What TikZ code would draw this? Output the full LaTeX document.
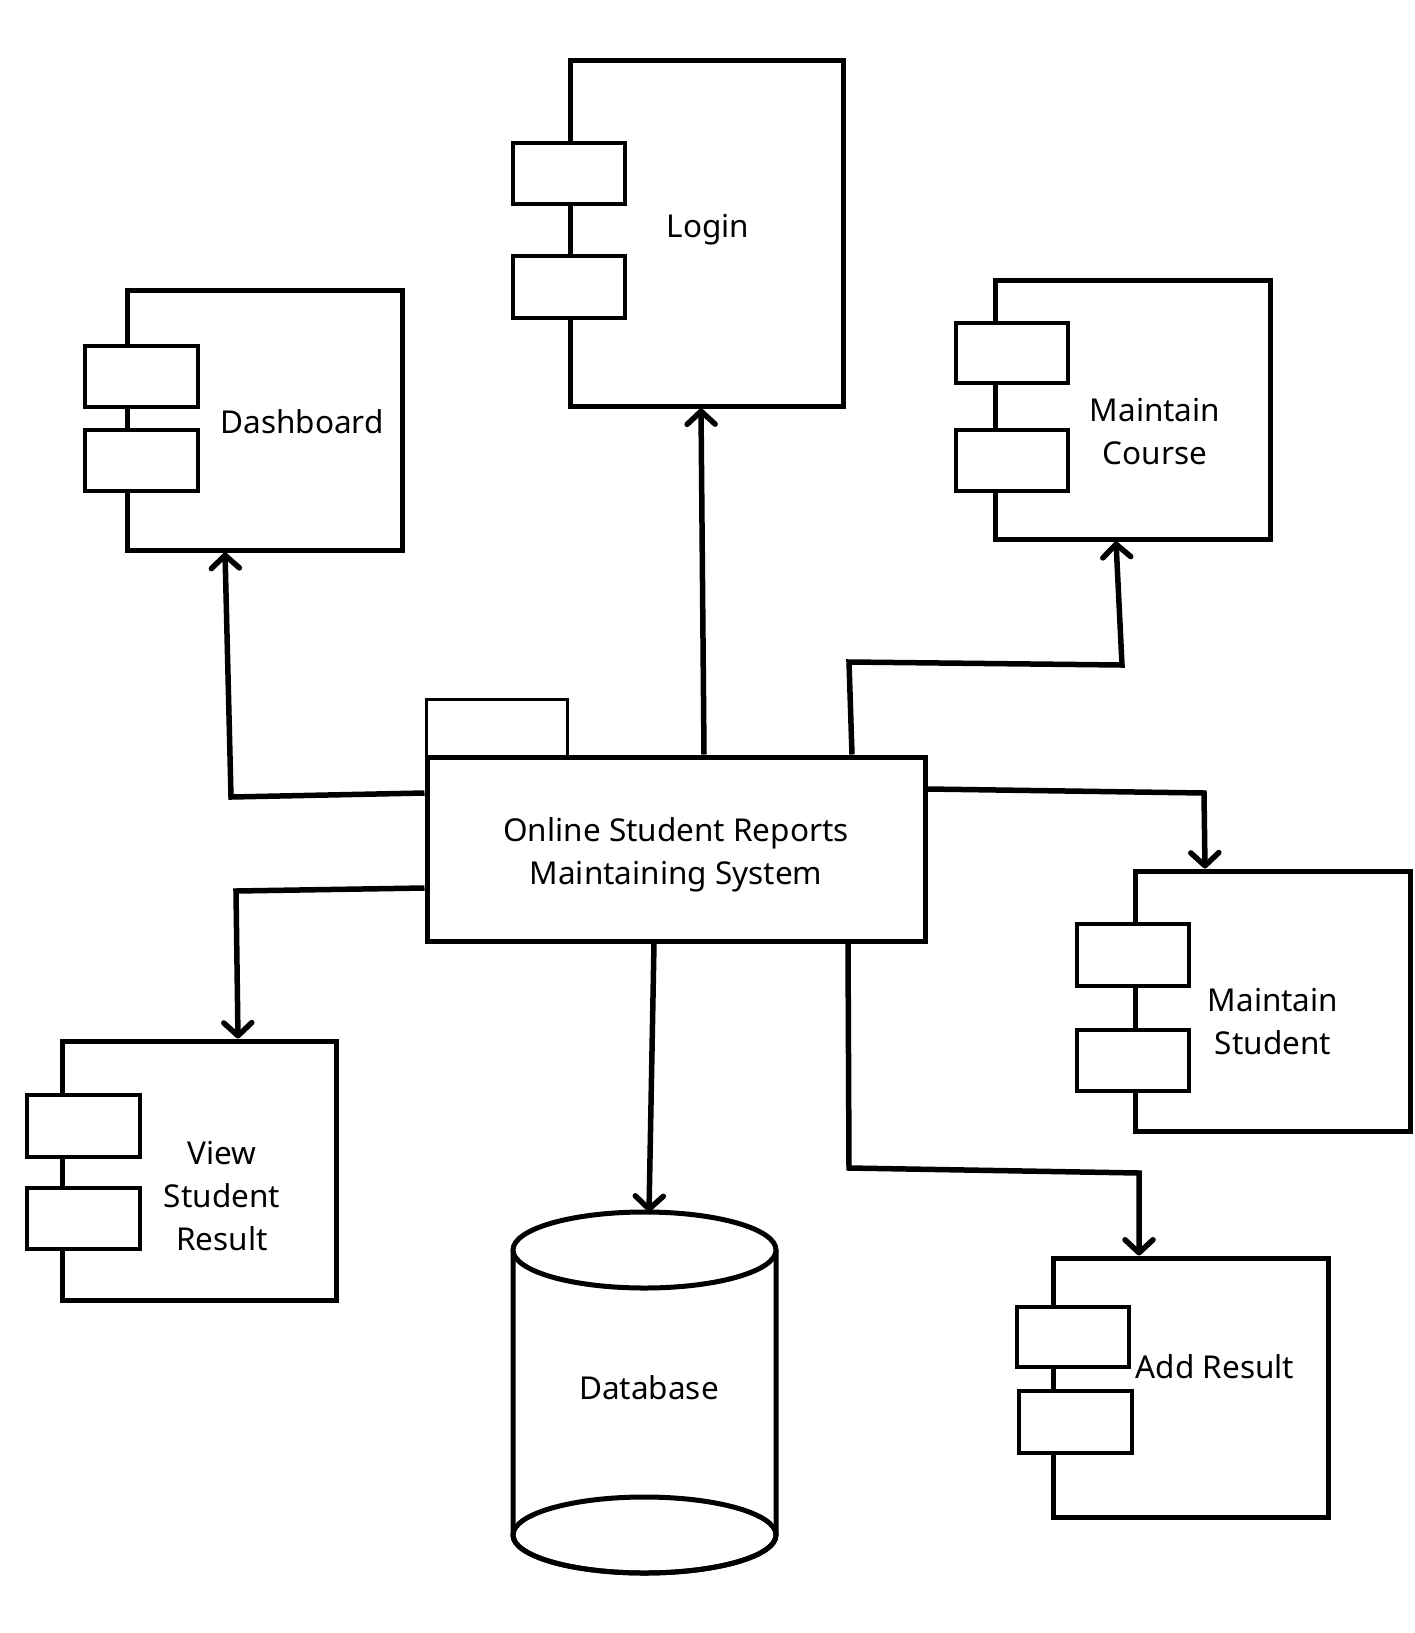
\documentclass[tikz,border=0pt]{standalone}
\usepackage{fontspec}
\setmainfont{Noto Sans}
\usetikzlibrary{arrows.meta}
\begin{document}
\begin{tikzpicture}[x=1pt,y=-1pt,
  compbox/.style={draw,line width=5pt,rectangle,inner sep=0pt,fill=white},
  port/.style={draw,line width=3.5pt,fill=white},
  conn/.style={line width=5.5pt,line join=miter,
    -{Straight Barb[length=13pt,width=28pt,line width=5.5pt,round]}},
  lbl/.style={font=\fontsize{31.5}{43}\selectfont,align=center,inner sep=0pt}]
\useasboundingbox[fill=white] (0,0) rectangle (1414,1633);

% central system box with its tab
\draw[port,line width=3pt] (426,699) rectangle (567,759);
\node[compbox,minimum width=498pt,minimum height=184pt] (main) at (676,849) {};
\node[lbl] (mainlbl) at (676,855) {Online Student Reports\\Maintaining System};

% components
\node[compbox,minimum width=273pt,minimum height=346pt] (login) at (706.5,233) {};
\draw[port] (513,143) rectangle (625,204);
\draw[port] (513,256) rectangle (625,318);
\node[lbl] (loginlbl) at (708,230) {Login};

\node[compbox,minimum width=275pt,minimum height=260pt] (dash) at (264.5,420) {};
\draw[port] (85,346) rectangle (198,407);
\draw[port] (85,430) rectangle (198,491);
\node[lbl] (dashlbl) at (302,422) {Dashboard};

\node[compbox,minimum width=275pt,minimum height=259pt] (course) at (1132.5,409.5) {};
\draw[port] (956,323) rectangle (1068,383);
\draw[port] (956,430) rectangle (1068,491);
\node[lbl] (courselbl) at (1155,432) {Maintain\\Course};

\node[compbox,minimum width=275pt,minimum height=260pt] (student) at (1272.5,1001) {};
\draw[port] (1077,924) rectangle (1189,986);
\draw[port] (1077,1030) rectangle (1189,1091);
\node[lbl] (studentlbl) at (1273,1022) {Maintain\\Student};

\node[compbox,minimum width=274pt,minimum height=259pt] (view) at (199,1170.5) {};
\draw[port] (27,1095) rectangle (140,1157);
\draw[port] (27,1188) rectangle (140,1249);
\node[lbl] (viewlbl) at (222,1196) {View\\Student\\Result};

\node[compbox,minimum width=275pt,minimum height=259pt] (add) at (1190.5,1387.5) {};
\draw[port] (1017,1307) rectangle (1129,1367);
\draw[port] (1019,1391) rectangle (1132,1453);
\node[lbl] (addlbl) at (1215,1367) {Add Result};

% database cylinder
\node[inner sep=0pt,minimum width=263pt,minimum height=361pt] (db) at (644.5,1392.5) {};
\begin{scope}[line width=5pt]
  \draw[fill=white] (513,1250) -- (513,1535) arc[start angle=180,end angle=360,x radius=131.5,y radius=-38] -- (776,1250);
  \draw (644.5,1535) ellipse[x radius=131.5,y radius=38];
  \draw[fill=white] (644.5,1250) ellipse[x radius=131.5,y radius=38];
\end{scope}
\node[lbl] (dblbl) at (649,1388) {Database};

% connectors
\draw[conn] ([xshift=28pt]main.north) -- ([xshift=-5.5pt]login.south);
\draw[conn] ([yshift=56pt]main.west) -- (231,797) -- ([xshift=-39.5pt]dash.south);
\draw[conn] ([xshift=176pt]main.north) -- (849,662) -- (1122,665) -- ([xshift=-16.5pt]course.south);
\draw[conn] ([yshift=60pt]main.east) -- (1204,793) -- ([xshift=-67.5pt]student.north);
\draw[conn] ([yshift=-39pt]main.west) -- (236,891) -- ([xshift=39pt]view.north);
\draw[conn] ([xshift=-22pt]main.south) -- ([xshift=4.5pt]db.north);
\draw[conn] ([xshift=172pt]main.south) -- (849,1168) -- (1139,1173) -- ([xshift=-51.5pt]add.north);
\end{tikzpicture}
\end{document}
